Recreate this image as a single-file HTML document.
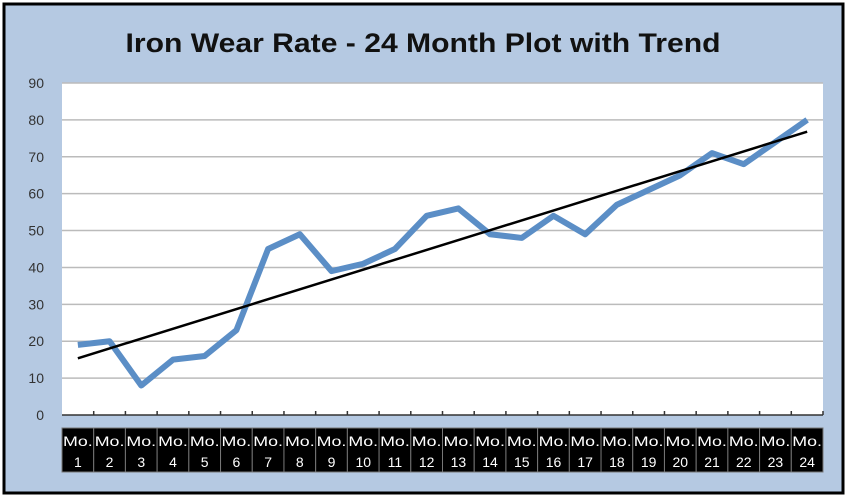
<!DOCTYPE html>
<html><head><meta charset="utf-8"><style>
html,body{margin:0;padding:0;background:#fff;}
svg{display:block;font-family:"Liberation Sans",sans-serif;}
</style></head><body>
<svg id="chart" width="848" height="498" viewBox="0 0 848 498">
  <rect x="4" y="4" width="839" height="489" fill="#b5c9e2" stroke="#000" stroke-width="3"/>
  <text x="423" y="52" text-anchor="middle" font-size="27" font-weight="bold" fill="#111" textLength="595" lengthAdjust="spacingAndGlyphs">Iron Wear Rate - 24 Month Plot with Trend</text>
  <rect x="62" y="83" width="761" height="332" fill="#fff"/>
  <g id="grid"></g>
  <g id="ylabels"></g>
  <g id="xlabels"></g>
  <g id="series"></g>
</svg>
<script>
const categories = ["1","2","3","4","5","6","7","8","9","10","11","12","13","14","15","16","17","18","19","20","21","22","23","24"];
const wearValues = [19,20,8,15,16,23,45,49,39,41,45,54,56,49,48,54,49,57,61,65,71,68,74,80];
const yTicks = [0,10,20,30,40,50,60,70,80,90];

const NS = "http://www.w3.org/2000/svg";
const L = 62, R = 823, T = 83, B = 415, YMAX = 90;
const bw = (R - L) / categories.length;
const xPos = i => L + bw * (i + 0.5);
const yPos = v => B - (v / YMAX) * (B - T);
function mk(tag, attrs, parent) {
  const e = document.createElementNS(NS, tag);
  for (const k in attrs) e.setAttribute(k, attrs[k]);
  parent.appendChild(e);
  return e;
}
const grid = document.getElementById('grid');
const yl = document.getElementById('ylabels');
yTicks.forEach(t => {
  if (t > 0) {
    const g = mk('line', {x1: L, x2: R, y1: yPos(t), y2: yPos(t), stroke: '#bbb', 'stroke-width': 1.5}, grid);
    
    
  }
  const tx = mk('text', {x: 44, y: yPos(t) + 5, 'text-anchor': 'end', 'font-size': 14, fill: '#333'}, yl);
  tx.textContent = t;
  
  
});
const ax = mk('line', {x1: L, x2: R, y1: B, y2: B, stroke: '#333', 'stroke-width': 1.5}, grid);


const xl = document.getElementById('xlabels');
categories.forEach((c, i) => {
  const x0 = L + bw * i;
  const tk = mk('line', {x1: x0 + bw, x2: x0 + bw, y1: B - 4, y2: B, stroke: '#333', 'stroke-width': 1.5}, grid);
  
  
  const r = mk('rect', {x: x0, y: 428, width: bw, height: 44, fill: '#000', stroke: '#777', 'stroke-width': 1}, xl);
  
  
  const t1 = mk('text', {x: x0 + bw / 2, y: 446, 'text-anchor': 'middle', 'font-size': 14, fill: '#fff', textLength: bw - 2, lengthAdjust: 'spacingAndGlyphs'}, xl);
  t1.textContent = 'Mo.';
  
  
  const t2 = mk('text', {x: x0 + bw / 2, y: 467, 'text-anchor': 'middle', 'font-size': 14, fill: '#fff'}, xl);
  t2.textContent = c;
  
  
});
const s = document.getElementById('series');
const pts = wearValues.map((v, i) => xPos(i) + ',' + yPos(v)).join(' ');
const pl = mk('polyline', {points: pts, fill: 'none', stroke: '#5b8ec6', 'stroke-width': 6, 'stroke-linejoin': 'round'}, s);


// linear trend (least squares)
const n = wearValues.length;
let sx = 0, sy = 0, sxy = 0, sxx = 0;
wearValues.forEach((v, i) => { const x = i + 1; sx += x; sy += v; sxy += x * v; sxx += x * x; });
const slope = (n * sxy - sx * sy) / (n * sxx - sx * sx);
const icpt = (sy - slope * sx) / n;
const tl = mk('line', {x1: xPos(0), y1: yPos(icpt + slope), x2: xPos(n - 1), y2: yPos(icpt + slope * n), stroke: '#000', 'stroke-width': 2.5}, s);


</script>
</body></html>
